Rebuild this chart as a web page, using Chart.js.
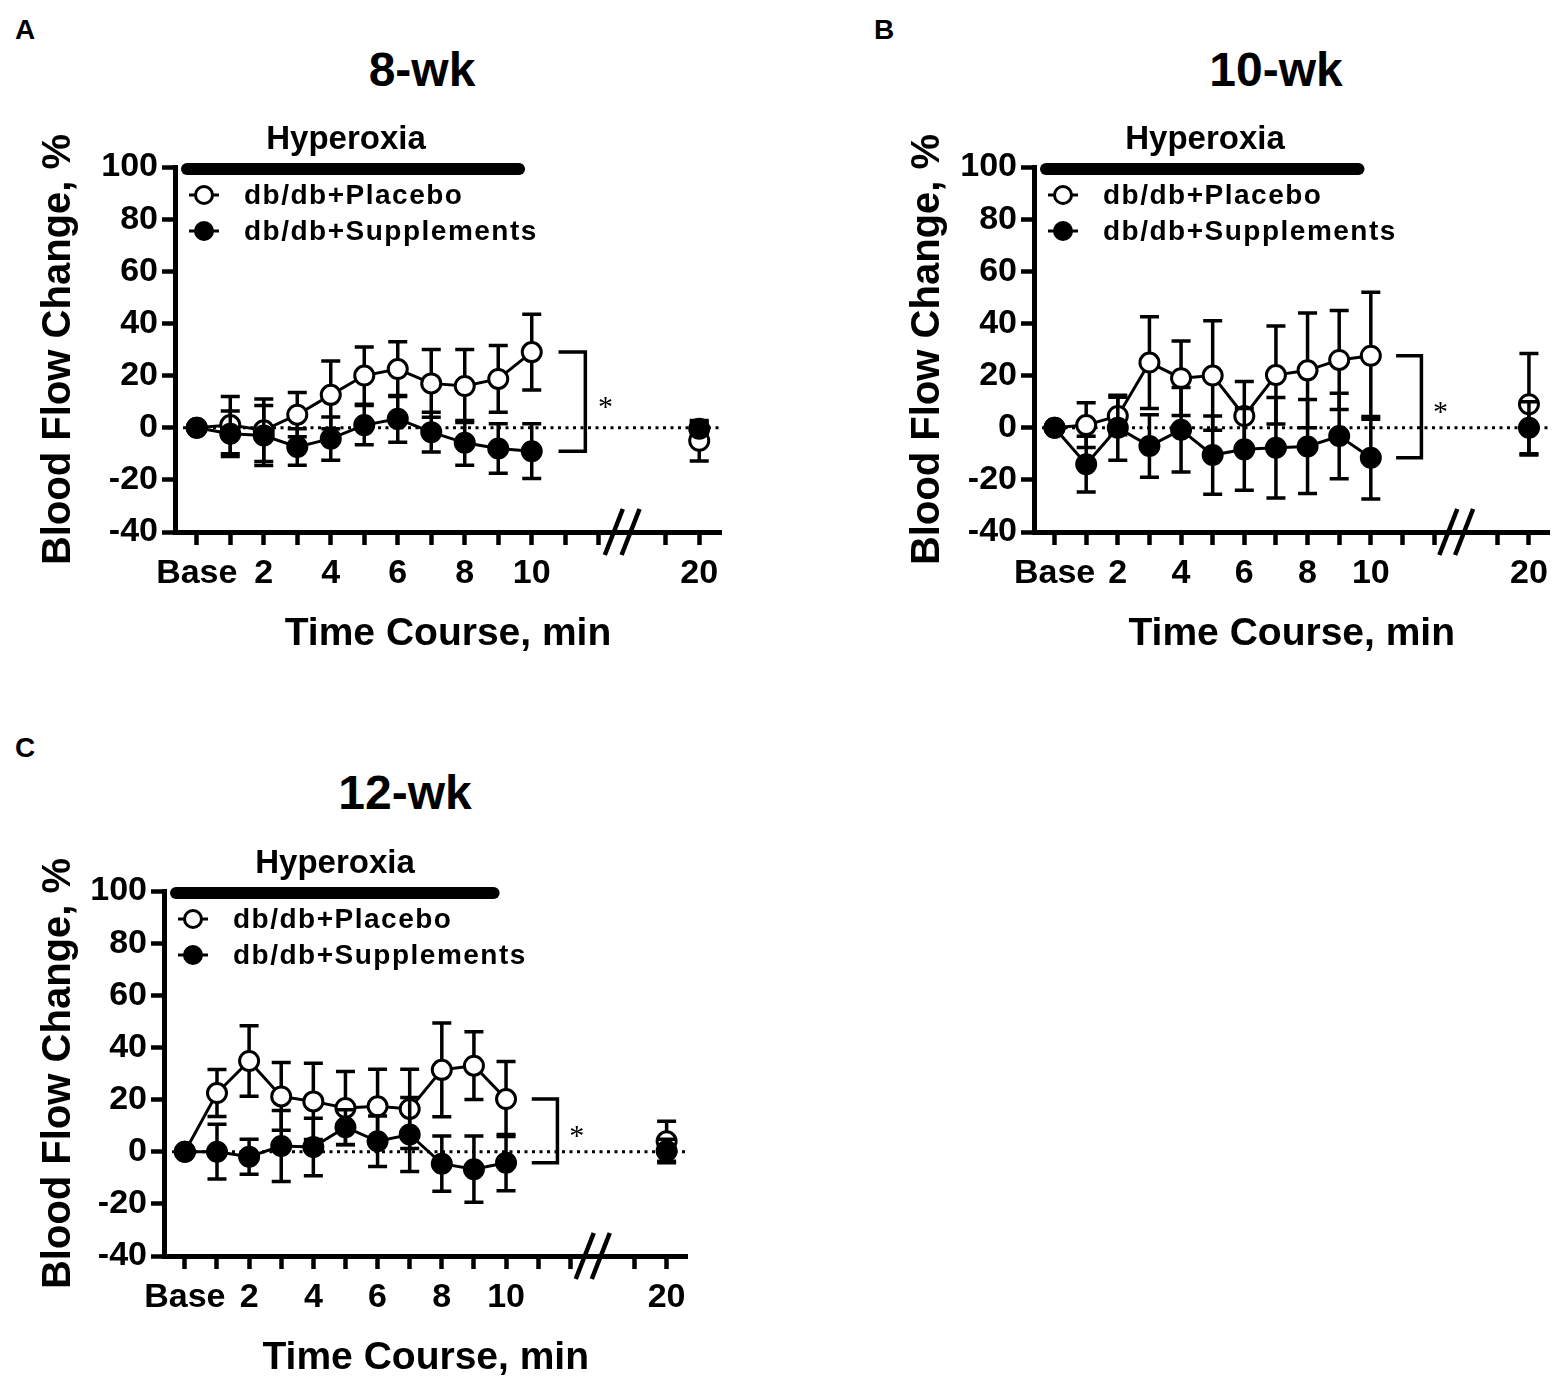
<!DOCTYPE html>
<html>

<head>
    <title>Blood Flow Change during Hyperoxia</title>
    <script src="https://cdn.jsdelivr.net/npm/chart.js"></script>
    <style>
        html, body { margin: 0; padding: 0; width: 1562px; height: 1383px; overflow: hidden; background: #fff; }
        canvas { position: absolute; }
        .lbl {
            position: absolute; font-family: 'Liberation Sans', Arial, sans-serif; font-weight: bold;
            color: #000; line-height: 1; transform: translate(-50%, -50%); white-space: nowrap;
        }
    </style>
</head>

<body>
    <div class="lbl" style="left:25px;top:30px;font-size:28px">A</div>
    <div class="lbl" style="left:884px;top:30px;font-size:28px">B</div>
    <div class="lbl" style="left:25px;top:748px;font-size:28px">C</div>
    <div class="lbl" style="left:422px;top:70px;font-size:48px">8-wk</div>
    <div class="lbl" style="left:1276px;top:70px;font-size:48px">10-wk</div>
    <div class="lbl" style="left:405px;top:793px;font-size:48px">12-wk</div>

    <canvas id="chartA" width="780" height="690" style="left:0px;top:0px"></canvas>
    <canvas id="chartB" width="693" height="690" style="left:869px;top:0px"></canvas>
    <canvas id="chartC" width="700" height="690" style="left:0px;top:724px"></canvas>

    <script>
        // time points (min) and axis ticks
        const minutes = [0, 1, 2, 3, 4, 5, 6, 7, 8, 9, 10, 20];
        const tickMinutes = [0, 1, 2, 3, 4, 5, 6, 7, 8, 9, 10, 11, 12, 19, 20];
        const tickLabels = ['Base', '', '2', '', '4', '', '6', '', '8', '', '10', '', '', '', '20'];
        const yTicks = [-40, -20, 0, 20, 40, 60, 80, 100];
        const seriesNames = ['db/db+Placebo', 'db/db+Supplements'];

        // 8-wk
        const wk8Placebo = [0, 1, -1, 5, 12.6, 20, 22.5, 17, 16, 18.7, 29, -5];
        const wk8PlaceboErr = [0, 11, 12, 8.5, 13, 11, 10.5, 13, 14, 12.8, 14.5, 7.8];
        const wk8Supp = [0, -2.3, -3, -7.4, -4.2, 1, 3.4, -1.7, -5.8, -8, -9, -0.4];
        const wk8SuppErr = [0, 8.7, 11.5, 7, 8.3, 7.5, 9, 7.6, 8.6, 9.5, 10.5, 2.5];

        // 10-wk
        const wk10Placebo = [0, 1, 4.5, 25, 19, 20, 4.5, 20.2, 22, 26, 27.6, 9];
        const wk10PlaceboErr = [0, 8.6, 7.2, 17.6, 14.3, 21, 13.2, 18.8, 22, 19, 24.4, 19.5];
        const wk10Supp = [0, -14, 0, -7, -0.8, -10.5, -8.3, -7.7, -7.2, -3.2, -11.5, 0];
        const wk10SuppErr = [0, 10.7, 12.5, 12, 16.2, 15, 15.7, 19.3, 18, 16.4, 15.8, 10];

        // 12-wk
        const wk12Placebo = [0, 22.5, 34.8, 21.2, 19.3, 16.8, 17.4, 16.4, 31.4, 33, 20.2, 4];
        const wk12PlaceboErr = [0, 9, 13.5, 13, 14.6, 14, 14.2, 15.2, 18, 13, 14.4, 7.7];
        const wk12Supp = [0, 0, -1.9, 2.2, 1.8, 9.4, 4, 6.6, -4.6, -6.7, -4.2, 0.3];
        const wk12SuppErr = [0, 10.5, 6.7, 13.6, 11, 6.7, 9.7, 14.2, 10.6, 12.7, 10.8, 4.5];

        Chart.defaults.font.family = "'Liberation Sans', Arial, sans-serif";
        Chart.defaults.color = '#000';

        // axis is broken between 12 and 19 min
        const axisPos = m => (m <= 12 ? m : m - 5);
        const FONT = "'Liberation Sans', Arial, sans-serif";

        const decorPlugin = {
            id: 'decor',
            beforeDatasetsDraw(chart) {
                const { ctx, chartArea: ca, scales: { y } } = chart;
                const y0 = y.getPixelForValue(0);
                ctx.save();
                ctx.strokeStyle = '#000';
                ctx.lineWidth = 3;
                ctx.setLineDash([3, 4.5]);
                ctx.beginPath();
                ctx.moveTo(ca.left + 8, y0);
                ctx.lineTo(ca.right, y0);
                ctx.stroke();
                ctx.restore();
            },
            beforeDatasetDraw(chart, args) {
                const { ctx, scales: { y } } = chart;
                const ds = chart.data.datasets[args.index];
                ctx.save();
                ctx.strokeStyle = '#000';
                ctx.lineWidth = 3.5;
                args.meta.data.forEach((pt, i) => {
                    const e = ds.errorBars[i];
                    if (!e) return;
                    const v = ds.data[i].y;
                    const yt = y.getPixelForValue(v + e);
                    const yb = y.getPixelForValue(v - e);
                    ctx.beginPath();
                    ctx.moveTo(pt.x, yt); ctx.lineTo(pt.x, yb);
                    ctx.moveTo(pt.x - 9.5, yt); ctx.lineTo(pt.x + 9.5, yt);
                    ctx.moveTo(pt.x - 9.5, yb); ctx.lineTo(pt.x + 9.5, yb);
                    ctx.stroke();
                });
                ctx.restore();
            },
            afterDraw(chart) {
                const { ctx, chartArea: ca, scales: { x, y } } = chart;
                const p = chart.options.plugins.decor;
                ctx.save();
                ctx.strokeStyle = '#000';
                ctx.fillStyle = '#000';

                // hyperoxia bar and label
                ctx.lineCap = 'round';
                ctx.lineWidth = 12;
                ctx.beginPath();
                ctx.moveTo(ca.left + 12, ca.top + 2);
                ctx.lineTo(x.getPixelForValue(9.8) - 6, ca.top + 2);
                ctx.stroke();
                ctx.lineCap = 'butt';
                ctx.font = 'bold 33px ' + FONT;
                ctx.textAlign = 'center';
                ctx.textBaseline = 'middle';
                ctx.fillText('Hyperoxia', ca.left + 171, ca.top - 27);

                // legend
                ctx.textAlign = 'left';
                ctx.font = 'bold 28px ' + FONT;
                ctx.letterSpacing = '1.5px';
                [[28, '#fff', seriesNames[0]], [64, '#000', seriesNames[1]]].forEach(([dy, fill, name]) => {
                    const ly = ca.top + dy;
                    ctx.lineWidth = 3;
                    ctx.beginPath();
                    ctx.moveTo(ca.left + 14, ly); ctx.lineTo(ca.left + 44, ly);
                    ctx.stroke();
                    ctx.beginPath();
                    ctx.arc(ca.left + 29, ly, 8.5, 0, Math.PI * 2);
                    ctx.fillStyle = fill;
                    ctx.fill();
                    ctx.stroke();
                    ctx.fillStyle = '#000';
                    ctx.fillText(name, ca.left + 69, ly + 1);
                });
                ctx.letterSpacing = '0px';

                // significance bracket at 10 min
                const yTop = y.getPixelForValue(p.top);
                const yBot = y.getPixelForValue(p.bottom);
                const xa = x.getPixelForValue(10.8);
                const xv = x.getPixelForValue(11.6);
                ctx.lineWidth = 3.5;
                ctx.beginPath();
                ctx.moveTo(xa, yTop); ctx.lineTo(xv, yTop); ctx.lineTo(xv, yBot); ctx.lineTo(xa, yBot);
                ctx.stroke();
                ctx.font = '30px "Liberation Serif", serif';
                ctx.textAlign = 'center';
                ctx.fillText('*', x.getPixelForValue(12.2), y.getPixelForValue((p.top + p.bottom) / 2) + 6);

                // axis break
                ctx.lineWidth = 4.5;
                [12.45, 12.95].forEach(v => {
                    const bx = x.getPixelForValue(v);
                    ctx.beginPath();
                    ctx.moveTo(bx - 9, ca.bottom + 23);
                    ctx.lineTo(bx + 9, ca.bottom - 23);
                    ctx.stroke();
                });
                ctx.restore();
            }
        };

        function makeChart(id, yAxisW, padRight, placebo, placeboErr, supp, suppErr) {
            const toPts = vals => minutes.map((m, i) => ({ x: axisPos(m), y: vals[i] }));
            const noLineTo20 = { borderColor: c => (c.p1DataIndex === 11 ? 'rgba(0,0,0,0)' : '#000') };
            return new Chart(document.getElementById(id), {
                type: 'line',
                data: {
                    datasets: [{
                        label: seriesNames[1],
                        data: toPts(supp),
                        errorBars: suppErr,
                        borderColor: '#000',
                        backgroundColor: '#000',
                        pointBackgroundColor: '#000',
                        pointBorderColor: '#000',
                        pointRadius: 9.5,
                        pointBorderWidth: 3,
                        borderWidth: 3,
                        segment: noLineTo20
                    }, {
                        label: seriesNames[0],
                        data: toPts(placebo),
                        errorBars: placeboErr,
                        borderColor: '#000',
                        backgroundColor: '#fff',
                        pointBackgroundColor: '#fff',
                        pointBorderColor: '#000',
                        pointRadius: 9.5,
                        pointBorderWidth: 3,
                        borderWidth: 3,
                        segment: noLineTo20
                    }]
                },
                options: {
                    responsive: false,
                    animation: false,
                    events: [],
                    layout: { padding: { top: 167, right: padRight, left: 0, bottom: 0 } },
                    plugins: {
                        legend: { display: false },
                        tooltip: { enabled: false },
                        decor: { top: placebo[10], bottom: supp[10] }
                    },
                    scales: {
                        x: {
                            type: 'linear',
                            min: -0.65,
                            max: 15.65,
                            afterBuildTicks: s => { s.ticks = tickMinutes.map(m => ({ value: axisPos(m) })); },
                            afterFit: s => { s.height = 158; },
                            ticks: {
                                autoSkip: false,
                                maxRotation: 0,
                                padding: 8,
                                font: { size: 34, weight: 'bold' },
                                callback: v => {
                                    const i = tickMinutes.findIndex(m => axisPos(m) === v);
                                    return i < 0 ? '' : tickLabels[i];
                                }
                            },
                            grid: { drawOnChartArea: false, tickLength: 13, tickWidth: 4.5, color: '#000' },
                            border: { width: 5, color: '#000' },
                            title: {
                                display: true,
                                text: 'Time Course, min',
                                font: { size: 39, weight: 'bold' },
                                padding: { top: 0, bottom: 32 }
                            }
                        },
                        y: {
                            min: -40,
                            max: 100,
                            afterBuildTicks: s => { s.ticks = yTicks.map(v => ({ value: v })); },
                            afterFit: s => { s.width = yAxisW; },
                            ticks: { padding: 4, font: { size: 34, weight: 'bold' } },
                            grid: { drawOnChartArea: false, tickLength: 13, tickWidth: 4.5, color: '#000' },
                            border: { width: 5, color: '#000' },
                            title: {
                                display: true,
                                text: 'Blood Flow Change, %',
                                font: { size: 40, weight: 'bold' },
                                padding: { top: 35, bottom: 0 }
                            }
                        }
                    }
                },
                plugins: [decorPlugin]
            });
        }

        makeChart('chartA', 175, 59, wk8Placebo, wk8PlaceboErr, wk8Supp, wk8SuppErr);
        makeChart('chartB', 165, 3, wk10Placebo, wk10PlaceboErr, wk10Supp, wk10SuppErr);
        makeChart('chartC', 164, 11, wk12Placebo, wk12PlaceboErr, wk12Supp, wk12SuppErr);
    </script>
</body>

</html>
